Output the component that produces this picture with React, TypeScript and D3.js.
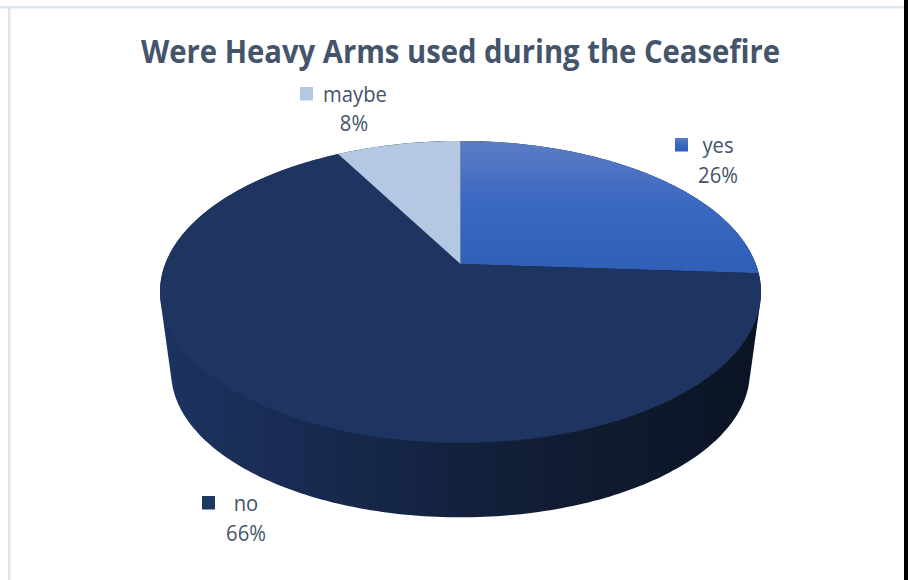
import React from "react";
import * as d3 from "d3";

const WIDTH = 911;
const HEIGHT = 580;

const categories = ["yes", "no", "maybe"];
const shares = [26, 66, 8];

const TITLE = "Were Heavy Arms used during the Ceasefire";
const FONT = "'Open Sans', 'Noto Sans', sans-serif";
const TEXT_COLOR = "#44546a";
const LABEL_SQUEEZE = 0.92;

// Perspective of the tilted disc: the far rim shrinks, so the apex sits above the ellipse centre.
const CX = 460.5;
const TOP_CY = 292;
const BOTTOM_CY = 372;
const RY = 151;
const RX = 300.5;
const TILT = 0.185;
const APEX_LIFT = 28;
const BOTTOM_SCALE = 0.963;

function project(u: number, v: number, scale: number, cy: number): [number, number] {
  const w = 1 + TILT * v;
  const a = RX * Math.sqrt(1 - TILT * TILT);
  return [CX + (scale * a * u) / w, cy - (scale * (RY * v + APEX_LIFT)) / w];
}

const onRim = (angle: number, scale = 1, cy = TOP_CY) =>
  project(Math.sin(angle), Math.cos(angle), scale, cy);

const line = d3.line();
const pie = d3.pie<number>().sort(null).value((d) => d)(shares);

function slicePath(start: number, end: number): string {
  const steps = Math.max(8, Math.ceil(((end - start) / (2 * Math.PI)) * 240));
  const rim = d3.range(steps + 1).map((i) => onRim(start + ((end - start) * i) / steps));
  return line([project(0, 0, 1, TOP_CY), ...rim, project(0, 0, 1, TOP_CY)]) + "Z";
}

const circleAngles = d3.range(360).map((d) => (d / 360) * 2 * Math.PI);
const silhouette = d3.polygonHull([
  ...circleAngles.map((a) => onRim(a)),
  ...circleAngles.map((a) => onRim(a, BOTTOM_SCALE, BOTTOM_CY)),
]) as [number, number][];

function Label({ x, y, text }: { x: number; y: number; text: string }) {
  return (
    <text transform={`translate(${x},${y}) scale(${LABEL_SQUEEZE},1)`} textAnchor="middle">
      {text}
    </text>
  );
}

export default function App() {
  const sliceFills = ["url(#yesFill)", "#1d3560", "#b4c7e3"];
  const swatchFills = ["url(#yesFill)", "#1f3763", "#b4c7e3"];
  const labelPlaces = [
    { swatchX: 675, swatchY: 138, nameX: 718, nameY: 153, pctX: 718, pctY: 183 },
    { swatchX: 202, swatchY: 496, nameX: 246, nameY: 511, pctX: 246, pctY: 541 },
    { swatchX: 300, swatchY: 87, nameX: 355, nameY: 102, pctX: 354, pctY: 131 },
  ];
  const wallStops = [
    { at: 0, color: "#1c3360" },
    { at: 0.25, color: "#182a50" },
    { at: 0.5, color: "#13213d" },
    { at: 0.75, color: "#0f1a2e" },
    { at: 1, color: "#0b1424" },
  ];

  return (
    <svg
      width={WIDTH}
      height={HEIGHT}
      viewBox={`0 0 ${WIDTH} ${HEIGHT}`}
      style={{ position: "absolute", left: 0, top: 0, display: "block", background: "#fff" }}
    >
      <defs>
        <linearGradient id="yesFill" x1="0" y1="0" x2="0" y2="1">
          <stop offset="0" stopColor="#5d7cc4" />
          <stop offset="0.45" stopColor="#3b69c2" />
          <stop offset="1" stopColor="#2f5fb6" />
        </linearGradient>
        <linearGradient id="wallFill" gradientUnits="userSpaceOnUse" x1={CX - RX} y1={0} x2={CX + RX} y2={0}>
          {wallStops.map((s) => (
            <stop key={s.at} offset={s.at} stopColor={s.color} />
          ))}
        </linearGradient>
      </defs>

      {/* frame around the chart area */}
      <rect x={0} y={6} width={904} height={2.5} fill="#dfe5ef" />
      <rect x={8} y={6} width={2.5} height={574} fill="#dfe5ef" />
      <rect x={904} y={0} width={4} height={HEIGHT} fill="#000" />

      <text
        x={460.5}
        y={63}
        textAnchor="middle"
        fontFamily={FONT}
        fontSize={33}
        fontWeight={700}
        fill={TEXT_COLOR}
        textLength={639}
        lengthAdjust="spacingAndGlyphs"
      >
        {TITLE}
      </text>

      <path d={line(silhouette) + "Z"} fill="url(#wallFill)" />
      {pie.map((slice, i) => (
        <path key={categories[i]} d={slicePath(slice.startAngle, slice.endAngle)} fill={sliceFills[i]} />
      ))}

      {categories.map((name, i) => {
        const p = labelPlaces[i];
        return (
          <g key={name} fontFamily={FONT} fontSize={22} fill={TEXT_COLOR}>
            <rect x={p.swatchX} y={p.swatchY} width={13} height={13.5} fill={swatchFills[i]} />
            <Label x={p.nameX} y={p.nameY} text={name} />
            <Label x={p.pctX} y={p.pctY} text={`${shares[i]}%`} />
          </g>
        );
      })}
    </svg>
  );
}
